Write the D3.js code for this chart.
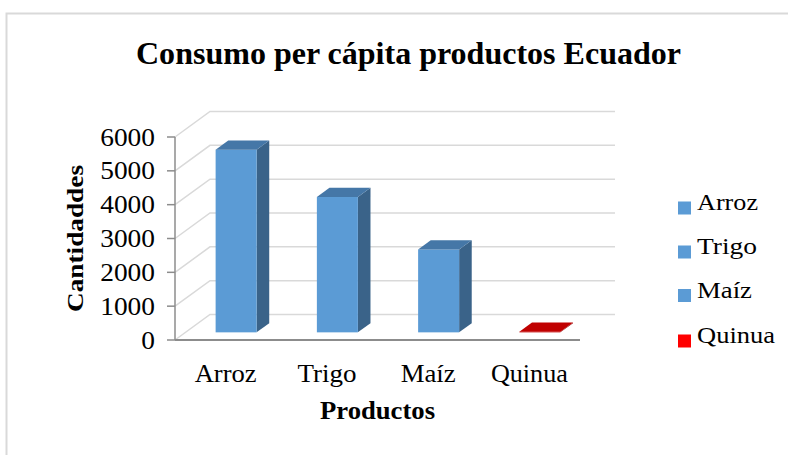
<!DOCTYPE html>
<html>
<head>
<meta charset="utf-8">
<script src="https://cdn.jsdelivr.net/npm/d3@7"></script>
<style>
  html, body { margin: 0; padding: 0; background: #fff; }
  svg { display: block; }
  text { font-family: "Liberation Serif", "Times New Roman", serif; fill: #000; }
</style>
</head>
<body>
<svg id="chart" width="788" height="455"></svg>
<script>
// ---- data ----
const categories = ["Arroz", "Trigo", "Maíz", "Quinua"];
const values = [5400, 4000, 2450, 20];
const yTicks = [0, 1000, 2000, 3000, 4000, 5000, 6000];
const title = "Consumo per cápita productos Ecuador";
const xTitle = "Productos";
const yTitle = "Cantidaddes";

// ---- styles ----
const faceColors = [
  { front: "#5b9bd5", side: "#3a6389", top: "#4577a7" },
  { front: "#5b9bd5", side: "#3a6389", top: "#4577a7" },
  { front: "#5b9bd5", side: "#3a6389", top: "#4577a7" },
  { front: "#c00000", side: "#8f0000", top: "#c00000" }
];
const legendColors = ["#5b9bd5", "#5b9bd5", "#5b9bd5", "#ff0000"];

const svg = d3.select("#chart");

// frame
svg.append("path")
  .attr("d", "M6.5,455 L6.5,13.5 L788,13.5")
  .attr("fill", "none").attr("stroke", "#d9d9d9").attr("stroke-width", 2);

// 3D geometry
const x0 = 175, x1 = 580;
const DX = 35, DY = -25.5;
const f1 = 0.30, f2 = 0.66;

const x = d3.scaleBand().domain(categories).range([x0, x1])
  .paddingInner(0.595).paddingOuter(0.595 / 2);
const y = d3.scaleLinear().domain([0, 6000]).range([340, 137]);

// gridlines: side wall diagonals + back wall horizontals
const grid = svg.append("g").attr("stroke", "#d9d9d9").attr("stroke-width", 1.5).attr("fill", "none");
yTicks.forEach(t => {
  grid.append("path")
    .attr("d", `M${x0},${y(t)} L${x0 + DX},${y(t) + DY} L${x1 + DX},${y(t) + DY}`);
});

// axis line and ticks
const axisG = svg.append("g");
axisG.append("line")
  .attr("x1", x0).attr("x2", x0).attr("y1", y(6000)).attr("y2", y(0))
  .attr("stroke", "#8c8c8c").attr("stroke-width", 1.5);
axisG.selectAll(".tick").data(yTicks).join("line")
  .attr("x1", x0 - 8).attr("x2", x0).attr("y1", d => y(d)).attr("y2", d => y(d))
  .attr("stroke", "#8c8c8c").attr("stroke-width", 1.5);
axisG.selectAll(".tl").data(yTicks).join("text")
  .attr("x", 155).attr("y", d => y(d) + 8.5)
  .attr("text-anchor", "end")
  .attr("font-size", 25)
  .each(function(d) {
    const s = String(d);
    d3.select(this).text(s)
      .attr("textLength", s.length * 13.7)
      .attr("lengthAdjust", "spacingAndGlyphs");
  });

// floor front line
svg.append("line")
  .attr("x1", x0).attr("x2", x1).attr("y1", y(0)).attr("y2", y(0))
  .attr("stroke", "#8c8c8c").attr("stroke-width", 2);

// bars
const bw = x.bandwidth();
const dxb = (f2 - f1) * DX, dyb = (f2 - f1) * DY;
const bars = svg.append("g");
categories.forEach((c, i) => {
  const v = values[i];
  const fx = x(c) + f1 * DX;
  const baseY = y(0) + f1 * DY;
  const topY = y(v) + f1 * DY;
  const col = faceColors[i];
  const g = bars.append("g");
  g.append("path")
    .attr("d", `M${fx + bw},${baseY} L${fx + bw + dxb},${baseY + dyb} L${fx + bw + dxb},${topY + dyb} L${fx + bw},${topY} Z`)
    .attr("fill", col.side);
  g.append("rect")
    .attr("x", fx).attr("y", topY).attr("width", bw).attr("height", Math.max(0, baseY - topY))
    .attr("fill", col.front);
  g.append("path")
    .attr("d", `M${fx},${topY} L${fx + dxb},${topY + dyb} L${fx + bw + dxb},${topY + dyb} L${fx + bw},${topY} Z`)
    .attr("fill", col.top);
});

// x labels
const xLabelWidths = { "Arroz": 62, "Trigo": 59, "Maíz": 55, "Quinua": 77 };
svg.append("g").selectAll("text").data(categories).join("text")
  .attr("x", d => x(d) + bw / 2)
  .attr("y", 382)
  .attr("text-anchor", "middle")
  .attr("font-size", 26)
  .attr("textLength", d => xLabelWidths[d])
  .attr("lengthAdjust", "spacingAndGlyphs")
  .text(d => d);

// titles
svg.append("text")
  .attr("x", 136).attr("y", 64)
  .attr("font-size", 31).attr("font-weight", "bold")
  .attr("textLength", 545).attr("lengthAdjust", "spacingAndGlyphs")
  .text(title);

svg.append("text")
  .attr("x", 377.5).attr("y", 419)
  .attr("text-anchor", "middle")
  .attr("font-size", 25).attr("font-weight", "bold")
  .attr("textLength", 115).attr("lengthAdjust", "spacingAndGlyphs")
  .text(xTitle);

svg.append("text")
  .attr("transform", "translate(83,238.5) rotate(-90)")
  .attr("text-anchor", "middle")
  .attr("font-size", 23).attr("font-weight", "bold")
  .attr("textLength", 147).attr("lengthAdjust", "spacingAndGlyphs")
  .text(yTitle);

// legend
const legendBaselines = [210, 254, 297.5, 343];
const legendWidths = [61, 60, 55, 78];
const lg = svg.append("g");
categories.forEach((c, i) => {
  lg.append("rect")
    .attr("x", 678).attr("y", legendBaselines[i] - 8.5)
    .attr("width", 13).attr("height", 13)
    .attr("fill", legendColors[i]);
  lg.append("text")
    .attr("x", 697).attr("y", legendBaselines[i])
    .attr("font-size", 23)
    .attr("textLength", legendWidths[i]).attr("lengthAdjust", "spacingAndGlyphs")
    .text(c);
});
</script>
</body>
</html>
